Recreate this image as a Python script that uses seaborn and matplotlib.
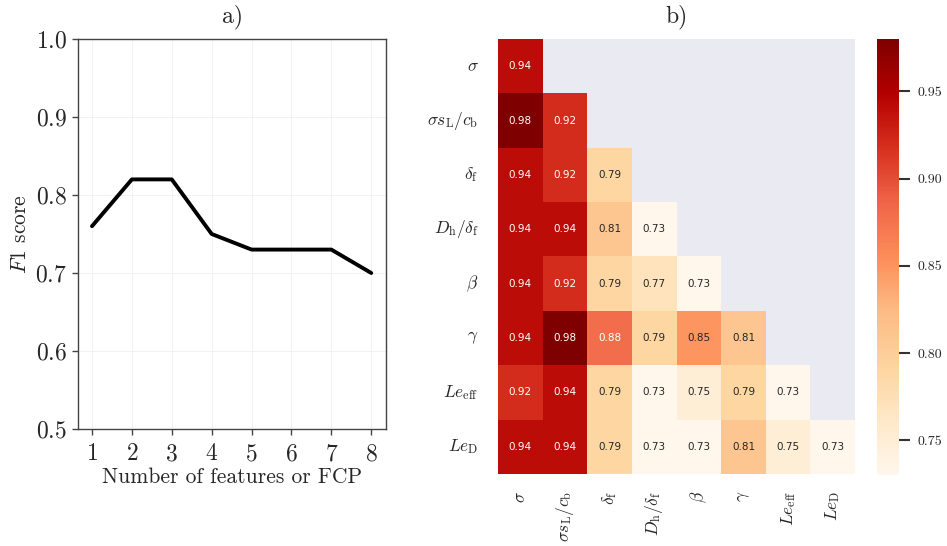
"""F1 score vs number of features, and pairwise-feature F1 heatmap."""
import matplotlib
matplotlib.use("Agg")
import matplotlib.pyplot as plt
import numpy as np
import pandas as pd
import seaborn as sns

n_features = [1, 2, 3, 4, 5, 6, 7, 8]
f1_scores = [0.76, 0.82, 0.82, 0.75, 0.73, 0.73, 0.73, 0.70]

feature_labels = [
    r"$\sigma$", r"$\sigma s_\mathrm{L}/c_\mathrm{b}$", r"$\delta_\mathrm{f}$",
    r"$D_\mathrm{h}/\delta_\mathrm{f}$", r"$\beta$", r"$\gamma$",
    r"$Le_\mathrm{eff}$", r"$Le_\mathrm{D}$",
]
# lower triangle of pairwise F1 scores, row by row
pair_rows = [
    [0.94],
    [0.98, 0.92],
    [0.94, 0.92, 0.79],
    [0.94, 0.94, 0.81, 0.73],
    [0.94, 0.92, 0.79, 0.77, 0.73],
    [0.94, 0.98, 0.88, 0.79, 0.85, 0.81],
    [0.92, 0.94, 0.79, 0.73, 0.75, 0.79, 0.73],
    [0.94, 0.94, 0.79, 0.73, 0.73, 0.81, 0.75, 0.73],
]
cbar_ticks = [0.75, 0.80, 0.85, 0.90, 0.95]

sns.set_style("darkgrid")
plt.rcParams["font.family"] = "serif"
plt.rcParams["font.serif"] = ["cmr10", "DejaVu Serif"]
plt.rcParams["mathtext.fontset"] = "cm"
plt.rcParams["axes.formatter.use_mathtext"] = True
plt.rcParams["axes.unicode_minus"] = False

matrix = np.full((len(feature_labels), len(feature_labels)), np.nan)
for i, row in enumerate(pair_rows):
    matrix[i, :len(row)] = row
pairs = pd.DataFrame(matrix, index=feature_labels, columns=feature_labels)
mask = np.isnan(matrix)

fig = plt.figure(figsize=(9.47, 5.46), dpi=100)
ax_line = fig.add_axes([0.0824, 0.2143, 0.3252, 0.7143])
ax_heat = fig.add_axes([0.5259, 0.1319, 0.3770, 0.7967])
ax_cbar = fig.add_axes([0.9261, 0.1300, 0.0232, 0.7985])

# a) line plot
ax_line.set_facecolor("white")
sns.lineplot(x=n_features, y=f1_scores, ax=ax_line, color="black", linewidth=2.8)
ax_line.set(xlim=(0.65, 8.37), ylim=(0.5, 1.0))
ax_line.set_xticks(n_features)
ax_line.set_yticks([0.5, 0.6, 0.7, 0.8, 0.9, 1.0])
ax_line.grid(True, color="#f2f2f2", linewidth=0.7)
for spine in ax_line.spines.values():
    spine.set_visible(True)
    spine.set_color("#444444")
    spine.set_linewidth(1.0)
ax_line.tick_params(axis="both", which="major", length=4, width=1, color="#444444",
                    labelsize=17, direction="out", bottom=True, left=True, pad=4)
ax_line.tick_params(axis="x", pad=6)
ax_line.set_xlabel("Number of features or FCP", fontsize=15.5, labelpad=2)
ax_line.set_ylabel(r"$F1$ score", fontsize=15.5)
ax_line.set_title("a)", fontsize=17, pad=12)

# b) pairwise heatmap
sns.heatmap(pairs, mask=mask, cmap="OrRd", annot=True, fmt=".2f",
            annot_kws={"size": 7.5, "family": "DejaVu Sans"},
            ax=ax_heat, cbar_ax=ax_cbar, cbar_kws={"ticks": cbar_ticks})
ax_heat.set_facecolor("#EAEAF2")
ax_heat.grid(False)
ax_heat.tick_params(axis="both", length=0, labelsize=12.5)
ax_heat.tick_params(axis="y", pad=14)
ax_heat.tick_params(axis="x", pad=12)
ax_heat.set_yticklabels(feature_labels, rotation=0)
ax_heat.set_xticklabels(feature_labels, rotation=90)
ax_heat.set_title("b)", fontsize=17, pad=12)

ax_cbar.tick_params(length=8, width=1.5, color="#333333", labelsize=10, pad=5)
ax_cbar.set_yticklabels([f"{t:.2f}" for t in cbar_ticks])
for spine in ax_cbar.spines.values():
    spine.set_visible(False)

fig.savefig("out.png", dpi=100)
